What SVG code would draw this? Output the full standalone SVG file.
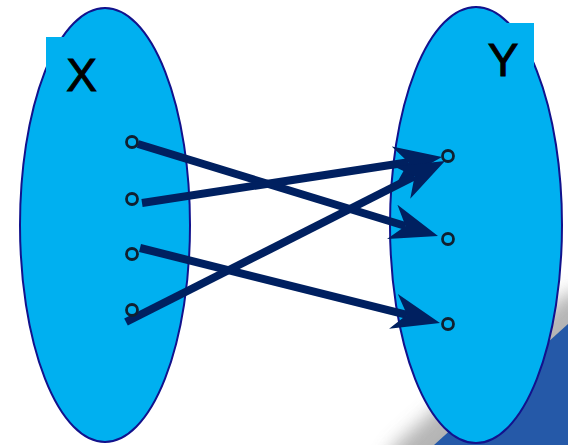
<svg xmlns="http://www.w3.org/2000/svg" width="568" height="445" viewBox="0 0 568 445">
  <style>
    .set { fill: #00b0f0; stroke: #12128c; stroke-width: 2; }
    .lbl { fill: #00b0f0; }
    .txt { font-family: "Liberation Sans", Arial, sans-serif; font-size: 46px; fill: #000; stroke: #000; stroke-width: 1; text-anchor: middle; }
    .pt { fill: #00b0f0; stroke: #102030; stroke-width: 2.8; }
    .arr { stroke: #002060; stroke-width: 8; fill: none; marker-end: url(#head); }
  </style>
  <defs>
    <marker id="head" markerUnits="userSpaceOnUse" viewBox="0 0 48 36" markerWidth="48" markerHeight="36" refX="14" refY="18" orient="auto">
      <path d="M0,0 L48,18 L0,36 L14,18 Z" fill="#002060"/>
    </marker>
    <filter id="blur" x="-50%" y="-50%" width="200%" height="200%">
      <feGaussianBlur stdDeviation="9"/>
    </filter>
  </defs>

  <g id="background">
    <polygon points="568,292 590,292 590,470 380,470 395,445" fill="#a8a8a8" opacity="0.85" filter="url(#blur)"/>
    <polygon points="568,324 568,445 434,445" fill="#2559a8"/>
  </g>

  <g id="set-x">
    <ellipse class="set" cx="105" cy="225" rx="85" ry="217"/>
    <rect class="lbl" x="46" y="37" width="56" height="58"/>
    <text class="txt" x="81.5" y="91">X</text>
  </g>

  <g id="set-y">
    <ellipse class="set" cx="476" cy="225" rx="86" ry="218"/>
    <rect class="lbl" x="478" y="23" width="56" height="62"/>
    <text class="txt" x="503" y="76">Y</text>
  </g>

  <g id="connectors">
    <line class="arr" x1="138" y1="144" x2="405.5" y2="226"/>
    <line class="arr" x1="142" y1="203" x2="408.4" y2="162.2"/>
    <line class="arr" x1="140" y1="248" x2="407" y2="314.8"/>
    <line class="arr" x1="126" y1="322" x2="414.6" y2="176.3"/>
  </g>

  <g id="points-x">
    <circle class="pt" cx="132" cy="142" r="5.5"/>
    <circle class="pt" cx="132" cy="199" r="5.5"/>
    <circle class="pt" cx="132" cy="254" r="5.5"/>
    <circle class="pt" cx="132" cy="310" r="5.5"/>
  </g>
  <g id="points-y">
    <circle class="pt" cx="448" cy="156" r="5.5"/>
    <circle class="pt" cx="448" cy="239" r="5.5"/>
    <circle class="pt" cx="448" cy="324" r="5.5"/>
  </g>
</svg>
